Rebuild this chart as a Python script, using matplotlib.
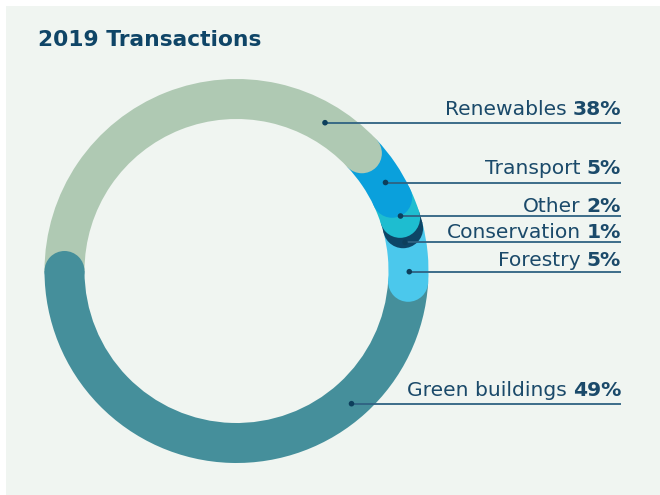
import matplotlib
matplotlib.use("Agg")
import matplotlib.pyplot as plt
from matplotlib.patches import Wedge, Circle, Rectangle
import numpy as np

# ---- data ----
categories = ["Renewables", "Transport", "Other", "Conservation", "Forestry", "Green buildings"]
shares = [38, 5, 2, 1, 5, 49]
colors = ["#afc9b3", "#0aa0dc", "#1ebdd0", "#0d4566", "#4bc8ec", "#458f9b"]

# ---- layout (pixel space, y measured from top) ----
W, H = 660, 495
cx, cy_img = 236.5, 271
R_out, width = 192, 40
R_mid = R_out - width / 2
label_line_y = [122.7, 182.5, 216, 242.3, 271.7, 403.7]
label_base_y = [115, 174.5, 211.5, 238.3, 265.7, 395.7]
dot_x = [325, 385.5, 400.5, 405, 409.3, 351.5]
line_end_x = 621

text_col = "#1b4a6a"
line_col = "#2f6282"
title_col = "#0f4567"
FONT = "DejaVu Sans"
LABEL_FS = 14.6

fig = plt.figure(figsize=(W / 100, H / 100), dpi=100)
fig.patch.set_facecolor("white")
ax = fig.add_axes([0, 0, 1, 1])
ax.set_xlim(0, W)
ax.set_ylim(0, H)
ax.set_aspect("equal")
ax.axis("off")

def Y(y):
    return H - y

ax.add_patch(Rectangle((6, 0), W - 6, H - 6, facecolor="#f0f5f1", edgecolor="none", zorder=0))

cy = Y(cy_img)
# clockwise from 9 o'clock
angles = [180.0]
for s in shares:
    angles.append(angles[-1] - s / sum(shares) * 360.0)

for i, c in enumerate(colors):
    a0, a1 = angles[i], angles[i + 1]
    ax.add_patch(Wedge((cx, cy), R_out, a1, a0, width=width, facecolor=c,
                       edgecolor="none", zorder=1))

# rounded end caps, drawn in reverse order so earlier segments sit on top
for i in reversed(range(len(colors))):
    a = np.deg2rad(angles[i + 1])
    ax.add_patch(Circle((cx + R_mid * np.cos(a), cy + R_mid * np.sin(a)), width / 2,
                        facecolor=colors[i], edgecolor="none", zorder=2 + (len(colors) - i) * 0.01))

# leader lines, dots and labels
fig.canvas.draw()
for i, name in enumerate(categories):
    ly = Y(label_line_y[i])
    ax.plot([dot_x[i], line_end_x], [ly, ly], color=line_col, lw=1.3, zorder=5,
            solid_capstyle="butt")
    ax.add_patch(Circle((dot_x[i], ly), 2.8, facecolor="#0d3f5c", edgecolor="none", zorder=6))
    pct = f"{shares[i]}%"
    t2 = ax.text(line_end_x, Y(label_base_y[i]), pct, ha="right", va="baseline",
                 fontsize=LABEL_FS, fontweight="bold", color=text_col, family=FONT, zorder=7)
    fig.canvas.draw()
    bb = t2.get_window_extent()
    x_left = bb.x0 - 6
    ax.text(x_left, Y(label_base_y[i]), name, ha="right", va="baseline",
            fontsize=LABEL_FS, color=text_col, family=FONT, zorder=7)

ax.text(38, Y(46), "2019 Transactions", ha="left", va="baseline", fontsize=15.7,
        fontweight="bold", color=title_col, family=FONT)

fig.savefig("out.png", dpi=100, facecolor=fig.get_facecolor())
